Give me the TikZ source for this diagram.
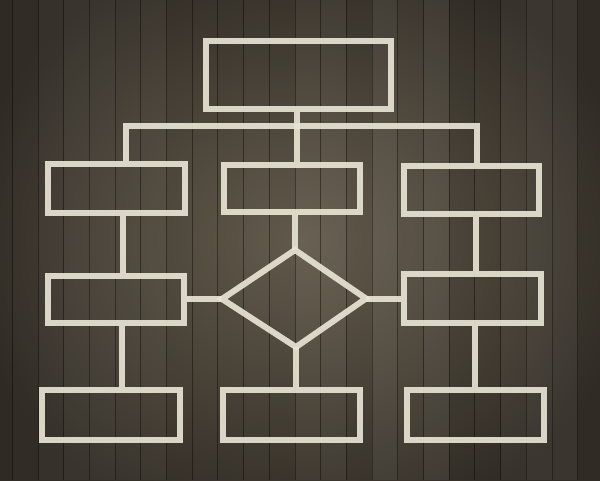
\documentclass[tikz,border=0pt]{standalone}
\usetikzlibrary{calc}
\definecolor{woodin}{RGB}{102,94,79}
\definecolor{woodout}{RGB}{50,45,38}
\definecolor{chalk}{RGB}{232,228,212}
\begin{document}
\begin{tikzpicture}[x=1pt,y=-1pt,
  box/.style={draw=chalk,line width=6pt,rectangle,inner sep=0pt,opacity=0.92},
  link/.style={draw=chalk,line width=6pt,opacity=0.92},
  plankline/.style={draw=black,line width=0.9pt,opacity=0.4}]
\useasboundingbox (0,0) rectangle (600,480);
% wood background
\shade[inner color=woodin,outer color=woodout] (-40,-60) rectangle (640,540);
\pgfmathsetseed{7}
\foreach \k in {0,...,23}{
  \pgfmathsetmacro{\xa}{12.3+25.7*(\k-1)}
  \pgfmathsetmacro{\xb}{12.3+25.7*\k}
  \pgfmathsetmacro{\op}{0.015+0.035*rnd}
  \pgfmathsetmacro{\dk}{rnd}
  \ifdim\dk pt>0.5pt
    \fill[white,opacity=\op] (\xa,0) rectangle (\xb,480);
  \else
    \fill[black,opacity=\op] (\xa,0) rectangle (\xb,480);
  \fi
  \draw[plankline] (\xb,0) -- (\xb,480);
}
% boxes
\node[box,minimum width=185pt,minimum height=68pt] (top) at (298.5,75) {};
\node[box,minimum width=137pt,minimum height=49pt] (l2) at (116.5,188.5) {};
\node[box,minimum width=136pt,minimum height=47pt] (m2) at (292,188.5) {};
\node[box,minimum width=135pt,minimum height=48pt] (r2) at (471.5,190) {};
\node[box,minimum width=136pt,minimum height=47pt] (l3) at (116,299.5) {};
\node[box,minimum width=137pt,minimum height=49pt] (r3) at (472.5,298.5) {};
\node[box,minimum width=138pt,minimum height=50pt] (l4) at (111,415) {};
\node[box,minimum width=137pt,minimum height=50pt] (m4) at (291.5,415) {};
\node[box,minimum width=137pt,minimum height=50pt] (r4) at (475.5,415) {};
% diamond
\coordinate (dT) at (295,250);
\coordinate (dR) at (366,298.5);
\coordinate (dB) at (296,347);
\coordinate (dL) at (222,299);
\draw[link,line join=miter] (dT) -- (dR) -- (dB) -- (dL) -- cycle;
% bus
\coordinate (busL) at (126,126);
\coordinate (busM) at (297,126);
\coordinate (busR) at (477,126);
\draw[link] (top.south -| busM) -- (m2.north -| busM);
\draw[link] (busL |- l2.north) -- (busL) -- (busR) -- (busR |- r2.north);
% left column
\coordinate (lc) at (123,0);
\draw[link] (l2.south -| lc) -- (l3.north -| lc);
\coordinate (lc2) at (122,0);
\draw[link] (l3.south -| lc2) -- (l4.north -| lc2);
% middle column
\draw[link] (m2.south -| dT) -- (dT);
\draw[link] (dB) -- (m4.north -| dB);
% diamond sides
\draw[link] (dL) -- (dL -| l3.east);
\draw[link] (dR) -- (dR -| r3.west);
% right column
\coordinate (rc) at (476,0);
\draw[link] (r2.south -| rc) -- (r3.north -| rc);
\coordinate (rc2) at (475,0);
\draw[link] (r3.south -| rc2) -- (r4.north -| rc2);
\end{tikzpicture}
\end{document}
